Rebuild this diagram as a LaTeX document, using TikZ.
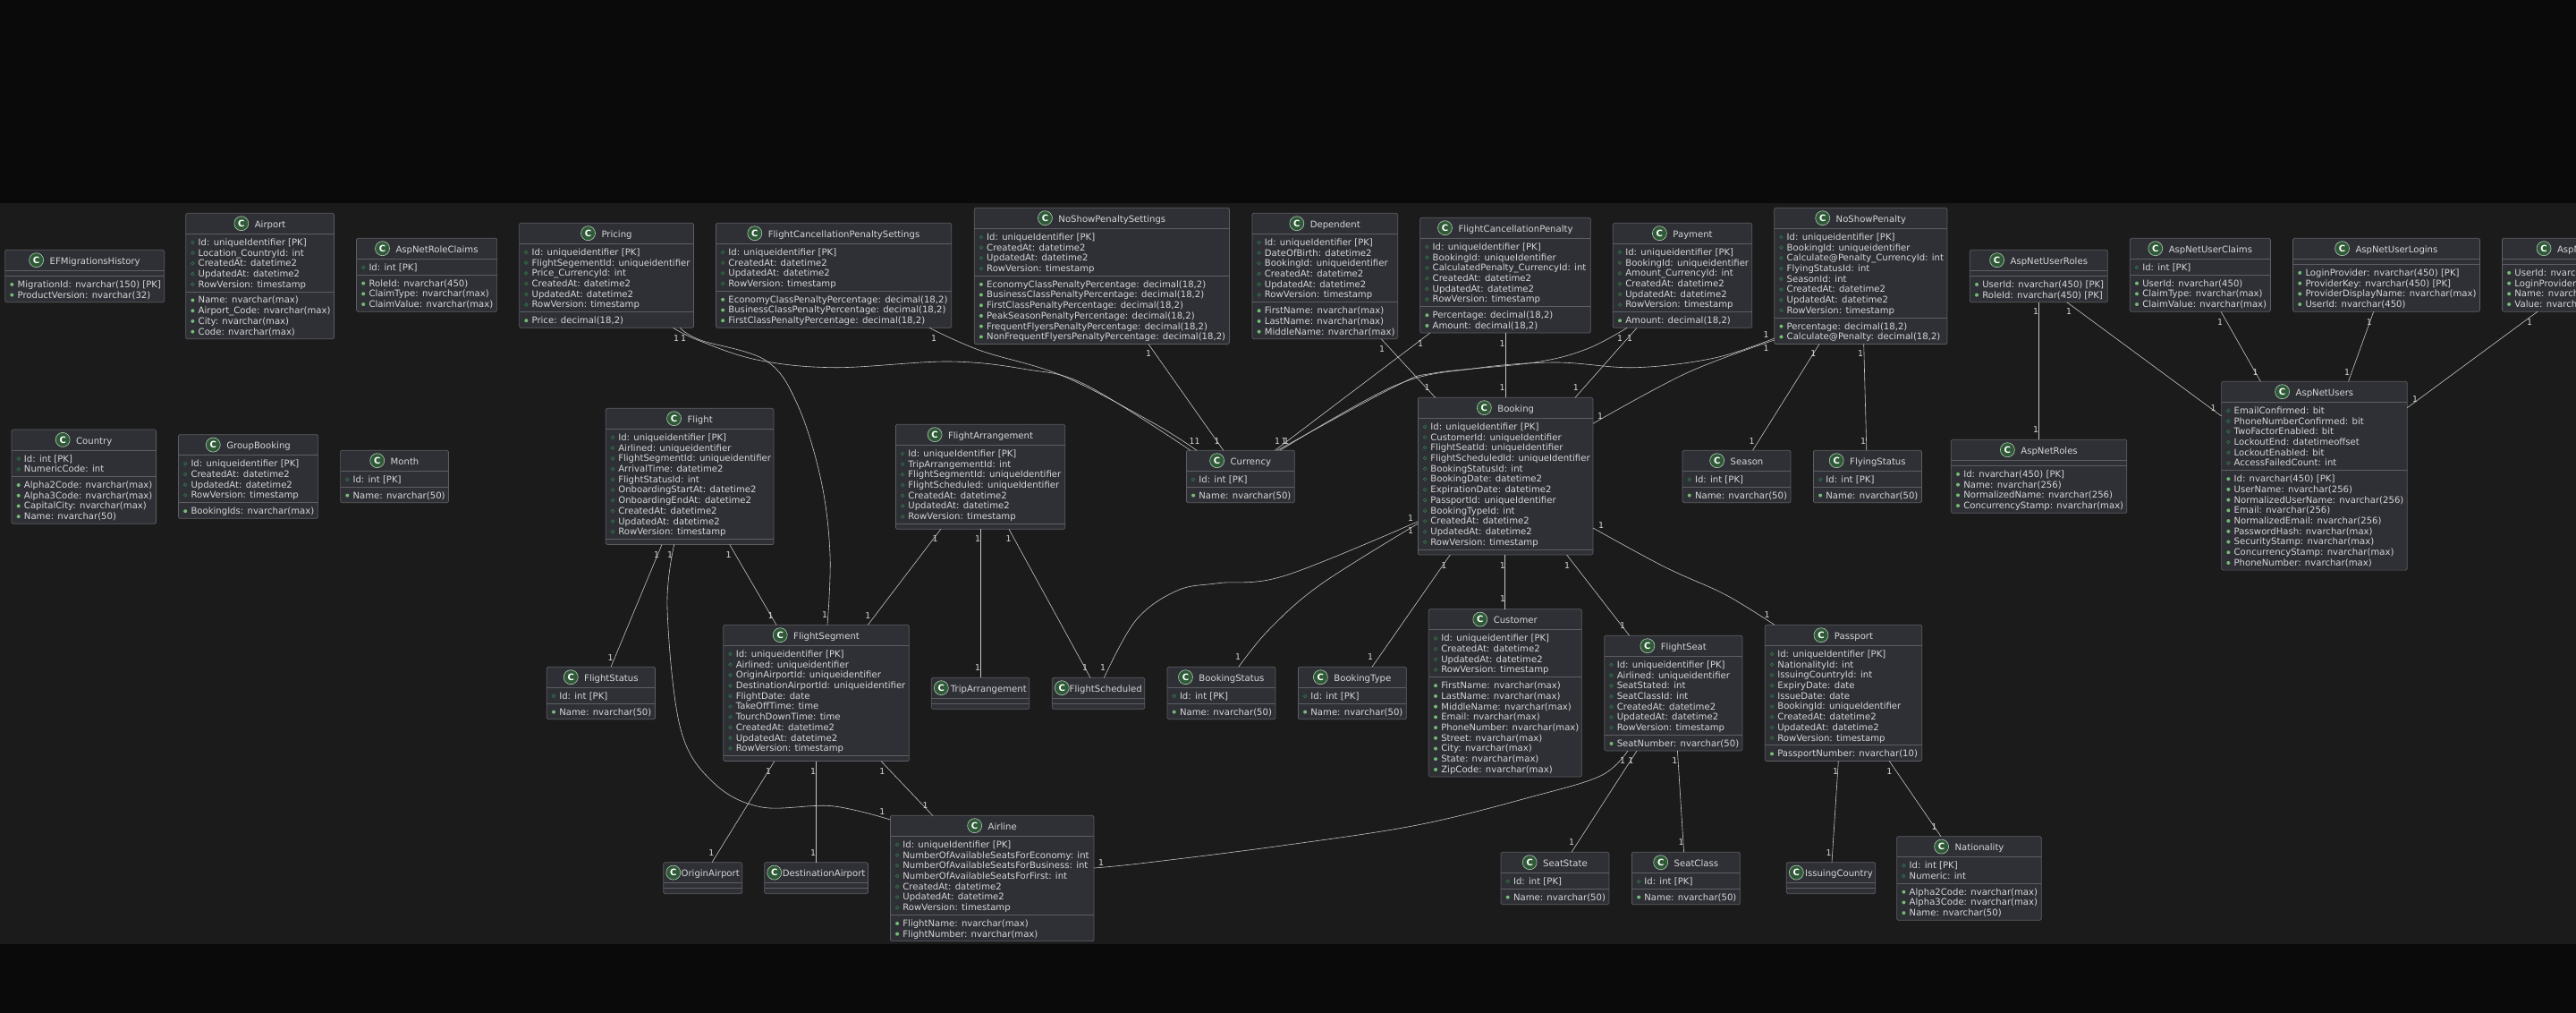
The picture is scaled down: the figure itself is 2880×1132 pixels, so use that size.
\documentclass[tikz,border=0pt]{standalone}
\usepackage{fontspec}
\setmainfont{DejaVu Sans}
\definecolor{bandc}{HTML}{0A0A0A}
\definecolor{bgc}{HTML}{1B1B1B}
\definecolor{boxc}{HTML}{2E3036}
\definecolor{edgec}{HTML}{5C5E63}
\definecolor{textc}{HTML}{D6D6D6}
\definecolor{relc}{HTML}{C6C6C6}
\definecolor{iconc}{HTML}{2F5A37}
\definecolor{iconl}{HTML}{B4C8B4}
\definecolor{openc}{HTML}{2F7D48}
\definecolor{fullc}{HTML}{74BC74}
\newcount\rowc \newcount\nA \newcount\nB \newcount\multc
\newdimen\tmpdim
\newcommand\bodyfont{\fontsize{10.1pt}{11.7pt}\selectfont}
\tikzset{
  classbox/.style={draw=edgec,fill=boxc,line width=.7pt,rounded corners=1.5pt,inner sep=0pt,outer sep=0pt,anchor=north west},
  sepline/.style={draw=edgec,line width=.7pt},
  rowtext/.style={anchor=base west,inner sep=0pt,outer sep=0pt,text=textc,font=\bodyfont},
  markopen/.style={circle,draw=openc,line width=.6pt,minimum size=3.6pt,inner sep=0pt},
  markfull/.style={circle,fill=fullc,minimum size=4pt,inner sep=0pt},
  iconbox/.style={circle,draw=iconl,line width=.6pt,fill=iconc,minimum size=16pt,inner sep=0pt,text=white,font=\fontsize{10pt}{10pt}\selectfont\bfseries},
  rel/.style={draw=relc,line width=.6pt},
  mult/.style={inner sep=0pt,outer sep=0pt,text=textc,font=\fontsize{9.4pt}{9.4pt}\selectfont},
}
% id, x1, x2, top, title, field rows, method rows
\newcommand\cls[7]{%
  \def\fld##1{\global\advance\rowc by 1 }\let\mth\fld
  \rowc=0 #6\relax \nA=\rowc \rowc=0 #7\relax \nB=\rowc
  \pgfmathsetmacro\ysepa{#4+23}%
  \pgfmathsetmacro\ysepb{\ysepa+11.72*\nA+6}%
  \pgfmathsetmacro\ybot{\ysepb+11.72*\nB+6}%
  \pgfmathsetmacro\boxw{#3-#2}%
  \pgfmathsetmacro\boxh{\ybot-#4}%
  \node[classbox,minimum width=\boxw pt,minimum height=\boxh pt] (#1) at (#2,#4) {};
  \draw[sepline] (#1.west |- 0,\ysepa) -- (#1.east |- 0,\ysepa);
  \draw[sepline] (#1.west |- 0,\ysepb) -- (#1.east |- 0,\ysepb);
  \settowidth\tmpdim{\pgfinterruptpicture\bodyfont #5\endpgfinterruptpicture}%
  \pgfmathsetmacro\tw{\tmpdim/1pt}%
  \pgfmathsetmacro\gapv{min(7,\boxw-6-16-\tw)}%
  \pgfmathsetmacro\gstart{(#2+#3)/2-(16+\gapv+\tw)/2}%
  \node[iconbox] (#1-c) at (\gstart+8,#4+11.4) {C};
  \node[rowtext] (#1-t) at (\gstart+16+\gapv,#4+16) {#5};
  \def\fld##1{%
    \pgfmathsetmacro\ry{\ysepa+13+11.72*\the\rowc}%
    \node[markopen] (#1-ma\the\rowc) at (#2+7.7,\ry-3.4) {};
    \node[rowtext] (#1-a\the\rowc) at (#2+14,\ry) {##1};
    \global\advance\rowc by 1 }%
  \def\mth##1{%
    \pgfmathsetmacro\ry{\ysepb+13+11.72*\the\rowc}%
    \node[markfull] (#1-mb\the\rowc) at (#2+7.7,\ry-3.4) {};
    \node[rowtext] (#1-b\the\rowc) at (#2+14,\ry) {##1};
    \global\advance\rowc by 1 }%
  \rowc=0 #6\relax
  \rowc=0 #7\relax
}
\newcommand\stdrows{\fld{CreatedAt: datetime2}\fld{UpdatedAt: datetime2}\fld{RowVersion: timestamp}}
\newcommand\lookup[5]{\cls{#1}{#2}{#3}{#4}{#5}{\fld{Id: int [PK]}}{\mth{Name: nvarchar(50)}}}
\newcommand\mone[2]{\global\advance\multc by 1 \node[mult] (m\the\multc) at (#1,#2) {1};}
\begin{document}
\begin{tikzpicture}[x=1pt,y=-1pt]
\useasboundingbox (0,0) rectangle (2880,1132);
\clip (0,0) rectangle (2880,1132);
\fill[bandc] (0,0) rectangle (2880,1132);
\fill[bgc] (0,226.7) rectangle (2880,1055);

\cls{EFMigrationsHistory}{5.6}{183.7}{279.3}{EFMigrationsHistory}{}{\mth{MigrationId: nvarchar(150) [PK]}\mth{ProductVersion: nvarchar(32)}}
\cls{Airport}{207.7}{373.5}{238.3}{Airport}{\fld{Id: uniqueIdentifier [PK]}\fld{Location\_CountryId: int}\stdrows}{\mth{Name: nvarchar(max)}\mth{Airport\_Code: nvarchar(max)}\mth{City: nvarchar(max)}\mth{Code: nvarchar(max)}}
\cls{AspNetRoleClaims}{398.5}{555.6}{266.3}{AspNetRoleClaims}{\fld{Id: int [PK]}}{\mth{RoleId: nvarchar(450)}\mth{ClaimType: nvarchar(max)}\mth{ClaimValue: nvarchar(max)}}
\cls{Pricing}{580.6}{775.5}{249.3}{Pricing}{\fld{Id: uniqueidentifier [PK]}\fld{FlightSegementId: uniqueidentifier}\fld{Price\_CurrencyId: int}\stdrows}{\mth{Price: decimal(18,2)}}
\cls{FCPS}{800.4}{1063.7}{249.3}{FlightCancellationPenaltySettings}{\fld{Id: uniqueidentifier [PK]}\stdrows}{\mth{EconomyClassPenaltyPercentage: decimal(18,2)}\mth{BusinessClassPenaltyPercentage: decimal(18,2)}\mth{FirstClassPenaltyPercentage: decimal(18,2)}}
\cls{NSPS}{1089.2}{1374.4}{232.3}{NoShowPenaltySettings}{\fld{Id: uniqueIdentifier [PK]}\stdrows}{\mth{EconomyClassPenaltyPercentage: decimal(18,2)}\mth{BusinessClassPenaltyPercentage: decimal(18,2)}\mth{FirstClassPenaltyPercentage: decimal(18,2)}\mth{PeakSeasonPenaltyPercentage: decimal(18,2)}\mth{FrequentFlyersPenaltyPercentage: decimal(18,2)}\mth{NonFrequentFlyersPenaltyPercentage: decimal(18,2)}}
\cls{Dependent}{1399.9}{1562.7}{238.3}{Dependent}{\fld{Id: uniqueIdentifier [PK]}\fld{DateOfBirth: datetime2}\fld{BookingId: uniqueidentifier}\stdrows}{\mth{FirstName: nvarchar(max)}\mth{LastName: nvarchar(max)}\mth{MiddleName: nvarchar(max)}}
\cls{FCP}{1587.7}{1778.3}{243.3}{FlightCancellationPenalty}{\fld{Id: uniqueIdentifier [PK]}\fld{BookingId: uniqueIdentifier}\fld{CalculatedPenalty\_CurrencyId: int}\stdrows}{\mth{Percentage: decimal(18,2)}\mth{Amount: decimal(18,2)}}
\cls{Payment}{1803.3}{1958.7}{249.3}{Payment}{\fld{Id: uniqueidentifier [PK]}\fld{BookingId: uniqueidentifier}\fld{Amount\_CurrencyId: int}\stdrows}{\mth{Amount: decimal(18,2)}}
\cls{NoShowPenalty}{1983.7}{2177}{232.3}{NoShowPenalty}{\fld{Id: uniqueidentifier [PK]}\fld{BookingId: uniqueidentifier}\fld{Calculate@Penalty\_CurrencyId: int}\fld{FlyingStatusId: int}\fld{SeasonId: int}\stdrows}{\mth{Percentage: decimal(18,2)}\mth{Calculate@Penalty: decimal(18,2)}}
\cls{AspNetUserRoles}{2202.3}{2356.3}{279.3}{AspNetUserRoles}{}{\mth{UserId: nvarchar(450) [PK]}\mth{RoleId: nvarchar(450) [PK]}}
\cls{AspNetUserClaims}{2381.3}{2538.5}{266.3}{AspNetUserClaims}{\fld{Id: int [PK]}}{\mth{UserId: nvarchar(450)}\mth{ClaimType: nvarchar(max)}\mth{ClaimValue: nvarchar(max)}}
\cls{AspNetUserLogins}{2563.5}{2772.4}{266.3}{AspNetUserLogins}{}{\mth{LoginProvider: nvarchar(450) [PK]}\mth{ProviderKey: nvarchar(450) [PK]}\mth{ProviderDisplayName: nvarchar(max)}\mth{UserId: nvarchar(450)}}
\cls{AspNetUserTokens}{2797.4}{2991}{266.3}{AspNetUserTokens}{}{\mth{UserId: nvarchar(450) [PK]}\mth{LoginProvider: nvarchar(450) [PK]}\mth{Name: nvarchar(450) [PK]}\mth{Value: nvarchar(max)}}
\cls{AspNetRoles}{2181.3}{2377.8}{491.3}{AspNetRoles}{}{\mth{Id: nvarchar(450) [PK]}\mth{Name: nvarchar(256)}\mth{NormalizedName: nvarchar(256)}\mth{ConcurrencyStamp: nvarchar(max)}}
\cls{AspNetUsers}{2483.6}{2691.2}{426.3}{AspNetUsers}{\fld{EmailConfirmed: bit}\fld{PhoneNumberConfirmed: bit}\fld{TwoFactorEnabled: bit}\fld{LockoutEnd: datetimeoffset}\fld{LockoutEnabled: bit}\fld{AccessFailedCount: int}}{\mth{Id: nvarchar(450) [PK]}\mth{UserName: nvarchar(256)}\mth{NormalizedUserName: nvarchar(256)}\mth{Email: nvarchar(256)}\mth{NormalizedEmail: nvarchar(256)}\mth{PasswordHash: nvarchar(max)}\mth{SecurityStamp: nvarchar(max)}\mth{ConcurrencyStamp: nvarchar(max)}\mth{PhoneNumber: nvarchar(max)}}
\cls{Country}{13}{174.5}{480}{Country}{\fld{Id: int [PK]}\fld{NumericCode: int}}{\mth{Alpha2Code: nvarchar(max)}\mth{Alpha3Code: nvarchar(max)}\mth{CapitalCity: nvarchar(max)}\mth{Name: nvarchar(50)}}
\cls{GroupBooking}{199.5}{355.6}{485.7}{GroupBooking}{\fld{Id: uniqueidentifier [PK]}\stdrows}{\mth{BookingIds: nvarchar(max)}}
\lookup{Month}{380.6}{501.5}{503.3}{Month}
\cls{Flight}{677.3}{865}{456.3}{Flight}{\fld{Id: uniqueidentifier [PK]}\fld{Airlined: uniqueidentifier}\fld{FlightSegmentId: uniqueidentifier}\fld{ArrivalTime: datetime2}\fld{FlightStatusId: int}\fld{OnboardingStartAt: datetime2}\fld{OnboardingEndAt: datetime2}\stdrows}{}
\lookup{FlightStatus}{611.3}{732.5}{745.3}{FlightStatus}
\cls{FlightArrangement}{1001.4}{1190.7}{474.3}{FlightArrangement}{\fld{Id: uniqueIdentifier [PK]}\fld{TripArrangementId: int}\fld{FlightSegmentId: uniqueIdentifier}\fld{FlightScheduled: uniqueIdentifier}\stdrows}{}
\lookup{Currency}{1326.4}{1447.3}{503.3}{Currency}
\cls{FlightSegment}{808.8}{1016.3}{698.3}{FlightSegment}{\fld{Id: uniqueidentifier [PK]}\fld{Airlined: uniqueidentifier}\fld{OriginAirportId: uniqueidentifier}\fld{DestinationAirportId: uniqueidentifier}\fld{FlightDate: date}\fld{TakeOffTime: time}\fld{TourchDownTime: time}\stdrows}{}
\cls{TripArrangement}{1041.3}{1150.7}{757.3}{TripArrangement}{}{}
\cls{FlightScheduled}{1176.2}{1279.7}{757.3}{FlightScheduled}{}{}
\cls{OriginAirport}{741.8}{829.7}{963.7}{OriginAirport}{}{}
\cls{DestinationAirport}{854.7}{970.4}{963.7}{DestinationAirport}{}{}
\cls{IssuingCountry}{1997.3}{2096.7}{963.7}{IssuingCountry}{}{}
\cls{Airline}{995.4}{1223}{911.3}{Airline}{\fld{Id: uniqueIdentifier [PK]}\fld{NumberOfAvailableSeatsForEconomy: int}\fld{NumberOfAvailableSeatsForBusiness: int}\fld{NumberOfAvailableSeatsForFirst: int}\stdrows}{\mth{FlightName: nvarchar(max)}\mth{FlightNumber: nvarchar(max)}}
\cls{Booking}{1585.4}{1781}{444.3}{Booking}{\fld{Id: uniqueIdentifier [PK]}\fld{CustomerId: uniqueIdentifier}\fld{FlightSeatId: uniqueIdentifier}\fld{FlightScheduledId: uniqueIdentifier}\fld{BookingStatusId: int}\fld{BookingDate: datetime2}\fld{ExpirationDate: datetime2}\fld{PassportId: uniqueIdentifier}\fld{BookingTypeId: int}\stdrows}{}
\lookup{Season}{1881}{2002}{503.3}{Season}
\lookup{FlyingStatus}{2027.4}{2148.4}{503.3}{FlyingStatus}
\lookup{BookingStatus}{1305}{1425.9}{745.3}{BookingStatus}
\lookup{BookingType}{1451.4}{1572.3}{745.3}{BookingType}
\cls{Customer}{1597.3}{1768.3}{680.7}{Customer}{\fld{Id: uniqueidentifier [PK]}\stdrows}{\mth{FirstName: nvarchar(max)}\mth{LastName: nvarchar(max)}\mth{MiddleName: nvarchar(max)}\mth{Email: nvarchar(max)}\mth{PhoneNumber: nvarchar(max)}\mth{Street: nvarchar(max)}\mth{City: nvarchar(max)}\mth{State: nvarchar(max)}\mth{ZipCode: nvarchar(max)}}
\cls{FlightSeat}{1793.8}{1947.9}{710.3}{FlightSeat}{\fld{Id: uniqueidentifier [PK]}\fld{Airlined: uniqueidentifier}\fld{SeatStated: int}\fld{SeatClassId: int}\stdrows}{\mth{SeatNumber: nvarchar(50)}}
\lookup{SeatState}{1678}{1798.9}{952.3}{SeatState}
\lookup{SeatClass}{1824.4}{1945.3}{952.3}{SeatClass}
\cls{Passport}{1973.3}{2148.7}{698.3}{Passport}{\fld{Id: uniqueIdentifier [PK]}\fld{NationalityId: int}\fld{IssuingCountryId: int}\fld{ExpiryDate: date}\fld{IssueDate: date}\fld{BookingId: uniqueIdentifier}\stdrows}{\mth{PassportNumber: nvarchar(10)}}
\cls{Nationality}{2120.7}{2282.3}{934.7}{Nationality}{\fld{Id: int [PK]}\fld{Numeric: int}}{\mth{Alpha2Code: nvarchar(max)}\mth{Alpha3Code: nvarchar(max)}\mth{Name: nvarchar(50)}}

% curved connectors
\draw[rel] plot[smooth,tension=.6] coordinates {(752.6,0 |- Pricing.south) (780,380) (846,402) (933,410.7) (1060.6,404) (1147,412.7) (1213.7,430) (1331,0 |- Currency.north)};
\draw[rel] plot[smooth,tension=.6] coordinates {(760,0 |- Pricing.south) (783,380) (856.5,403) (892,453) (918,537) (928,620) (925,0 |- FlightSegment.north)};
\draw[rel] plot[smooth,tension=.6] coordinates {(1039,0 |- FCPS.south) (1096,391.7) (1188,420) (1290,473) (1338,0 |- Currency.north)};
\draw[rel] plot[smooth,tension=.6] coordinates {(1819,0 |- Payment.south) (1774,390) (1716,405) (1604.6,416.7) (1560,431.7) (1428,0 |- Currency.north)};
\draw[rel] plot[smooth,tension=.6] coordinates {(NoShowPenalty.west |- 0,378) (1917,400) (1828,410.7) (1738.6,405) (1649,411.7) (1560,430.7) (1431,0 |- Currency.north)};
\draw[rel] plot[smooth,tension=.6] coordinates {(NoShowPenalty.west |- 0,380) (1886,416.7) (Booking.east |- 0,473.3)};
\draw[rel] plot[smooth,tension=.6] coordinates {(753.7,0 |- Flight.south) (746,680) (760.5,813) (796,873) (850,901.7) (930,900.7) (Airline.west |- 0,916)};
\draw[rel] plot[smooth,tension=.6] coordinates {(Booking.west |- 0,582.7) (1436.5,643.3) (1362,651.7) (1316,660) (1270,693) (1234.4,0 |- FlightScheduled.north)};
\draw[rel] plot[smooth,tension=.6] coordinates {(Booking.west |- 0,585) (1476.6,653) (1419,703.3) (1384.8,0 |- BookingStatus.north)};
\draw[rel] plot[smooth,tension=.6] coordinates {(Booking.east |- 0,590) (1860,633) (1920,660) (1950,676.7) (1984,0 |- Passport.north)};
\draw[rel] plot[smooth,tension=.6] coordinates {(Airline.east |- 0,970) (1280,964.3) (1433,945) (1586,921.7) (1713.7,890) (1790,866.7) (1819.8,0 |- FlightSeat.south)};
% straight connectors
\draw[rel] (1284,0 |- NSPS.south) -- (1367.8,0 |- Currency.north);
\draw[rel] (1544.3,0 |- Dependent.south) -- (1604.6,0 |- Booking.north);
\draw[rel] (1598.8,0 |- FCP.south) -- (1425.4,0 |- Currency.north);
\draw[rel] (1682.8,0 |- FCP.south) -- (1682.8,0 |- Booking.north);
\draw[rel] (1830,0 |- Payment.south) -- (1761,0 |- Booking.north);
\draw[rel] (2034,0 |- NoShowPenalty.south) -- (1959.5,0 |- Season.north);
\draw[rel] (2083.7,0 |- NoShowPenalty.south) -- (2086.8,0 |- FlyingStatus.north);
\draw[rel] (2279,0 |- AspNetUserRoles.south) -- (2279,0 |- AspNetRoles.north);
\draw[rel] (2310.8,0 |- AspNetUserRoles.south) -- (AspNetUsers.west |- 0,465);
\draw[rel] (2483,0 |- AspNetUserClaims.south) -- (2527.3,0 |- AspNetUsers.north);
\draw[rel] (2653.7,0 |- AspNetUserLogins.south) -- (2625.5,0 |- AspNetUsers.north);
\draw[rel] (2837,0 |- AspNetUserTokens.south) -- (AspNetUsers.east |- 0,455.7);
\draw[rel] (740,0 |- Flight.south) -- (683,0 |- FlightStatus.north);
\draw[rel] (815.7,0 |- Flight.south) -- (868,0 |- FlightSegment.north);
\draw[rel] (1051.8,0 |- FlightArrangement.south) -- (970.3,0 |- FlightSegment.north);
\draw[rel] (1096.6,0 |- FlightArrangement.south) -- (1096.6,0 |- TripArrangement.north);
\draw[rel] (1128,0 |- FlightArrangement.south) -- (1219,0 |- FlightScheduled.north);
\draw[rel] (1621.3,0 |- Booking.south) -- (1534,0 |- BookingType.north);
\draw[rel] (1682.7,0 |- Booking.south) -- (1682.7,0 |- Customer.north);
\draw[rel] (1751.6,0 |- Booking.south) -- (1821.7,0 |- FlightSeat.north);
\draw[rel] (865.9,0 |- FlightSegment.south) -- (796,0 |- OriginAirport.north);
\draw[rel] (912.3,0 |- FlightSegment.south) -- (912.3,0 |- DestinationAirport.north);
\draw[rel] (985,0 |- FlightSegment.south) -- (1042.7,0 |- Airline.north);
\draw[rel] (1830,0 |- FlightSeat.south) -- (1757,0 |- SeatState.north);
\draw[rel] (1875.4,0 |- FlightSeat.south) -- (1882.6,0 |- SeatClass.north);
\draw[rel] (2055.3,0 |- Passport.south) -- (2048,0 |- IssuingCountry.north);
\draw[rel] (2112.3,0 |- Passport.south) -- (2170,0 |- Nationality.north);

% multiplicity labels
\mone{756}{378}\mone{764}{378}\mone{922}{687}
\mone{1332.5}{492.7}\mone{1338.7}{492.7}\mone{1044}{378}
\mone{1284}{395}\mone{1360.6}{492.7}\mone{1545}{390}\mone{1595.7}{433.3}
\mone{1588}{383.7}\mone{1428}{492.7}\mone{1679.6}{383.7}\mone{1679.6}{433.3}
\mone{1811}{378}\mone{1438}{492.7}\mone{1822}{378}\mone{1761.8}{433.3}
\mone{1974.7}{374.3}\mone{1435.6}{492.7}\mone{1974.7}{389}\mone{1789}{465}
\mone{2027.4}{395}\mone{1958.7}{492.7}\mone{2080}{395}\mone{2083}{492.7}
\mone{2276}{348.3}\mone{2276}{480}\mone{2313}{348.3}\mone{2474.6}{455.7}
\mone{2482}{359.7}\mone{2521.5}{415.7}\mone{2648.8}{359.7}\mone{2624}{415.7}
\mone{2828}{359.7}\mone{2700}{446.3}
\mone{734}{620}\mone{682.6}{734.7}\mone{749}{620}\mone{986.4}{907}
\mone{814.6}{620}\mone{861.7}{687.7}\mone{1045.5}{601.7}\mone{970.3}{687.7}
\mone{1093}{601.7}\mone{1093}{745.7}\mone{1127.6}{601.7}\mone{1213}{745.7}
\mone{1577}{578.7}\mone{1233}{745.7}\mone{1577}{593}\mone{1384}{734}
\mone{1614.4}{631.7}\mone{1532}{734}\mone{1679.9}{631.7}\mone{1680}{669.3}
\mone{1752}{631.7}\mone{1814}{698.7}\mone{1790}{587.3}\mone{1975.7}{687.3}
\mone{859.2}{861.7}\mone{795.4}{952.7}\mone{909.2}{861.7}\mone{909.2}{952.7}
\mone{986.4}{861.7}\mone{1034.6}{900}\mone{1231}{963.7}\mone{1814}{850.3}
\mone{1823.4}{850.3}\mone{1757}{941}\mone{1872.3}{850.3}\mone{1879.5}{941}
\mone{2052}{861.7}\mone{2044.7}{952.7}\mone{2112.3}{861.7}\mone{2162.7}{924}
\end{tikzpicture}
\end{document}
